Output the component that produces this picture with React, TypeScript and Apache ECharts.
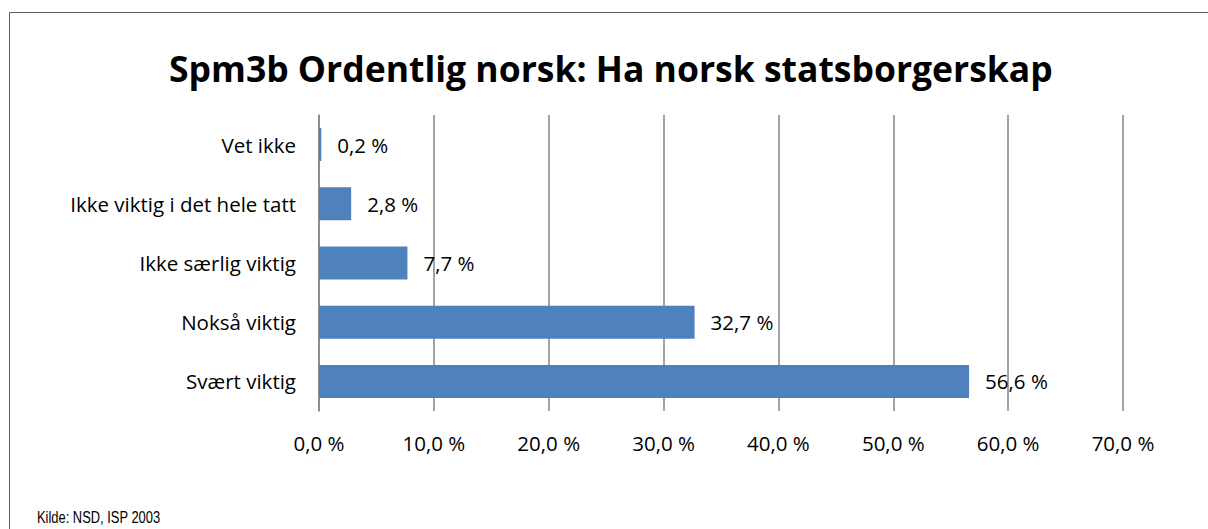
import React, { useEffect, useRef } from "react";
import * as echarts from "echarts";

const categories = ["Svært viktig", "Nokså viktig", "Ikke særlig viktig", "Ikke viktig i det hele tatt", "Vet ikke"];
const values = [56.6, 32.7, 7.7, 2.8, 0.2];
const titleText = "Spm3b Ordentlig norsk: Ha norsk statsborgerskap";
const sourceText = "Kilde: NSD, ISP 2003";

const fmt = (v: number) => v.toFixed(1).replace(".", ",") + " %";

export default function App() {
  const ref = useRef<HTMLDivElement>(null);
  useEffect(() => {
    document.body.style.margin = "0";
    const chart = echarts.init(ref.current!, undefined, { renderer: "svg" });
    const font = "'Open Sans', 'Noto Sans', sans-serif";
    chart.setOption({
      animation: false,
      backgroundColor: "#ffffff",
      title: {
        text: titleText,
        left: 164,
        top: 45,
        textStyle: { fontFamily: font, fontWeight: "bold", fontSize: 35.5, color: "#000" },
      },
      graphic: [
        {
          type: "rect",
          shape: { x: 9.5, y: 12.5, width: 1300, height: 600 },
          style: { fill: "none", stroke: "#5a5a5a", lineWidth: 1 },
          silent: true,
        },
        {
          type: "text",
          x: 37,
          y: 508,
          scaleX: 0.76,
          style: { text: sourceText, fontFamily: "'Liberation Sans', sans-serif", fontSize: 17, fill: "#000" },
        },
      ],
      grid: { left: 319, right: 85, top: 115, bottom: 118, containLabel: false },
      xAxis: {
        type: "value",
        min: 0,
        max: 70,
        interval: 10,
        axisLine: { show: false },
        axisTick: { show: false },
        splitLine: { show: true, lineStyle: { color: "#868686", width: 1.5 } },
        axisLabel: {
          formatter: (v: number) => fmt(v),
          fontFamily: font,
          fontSize: 20.5,
          color: "#000",
          margin: 21,
        },
      },
      yAxis: {
        type: "category",
        data: categories,
        axisLine: { show: true, lineStyle: { color: "#868686", width: 1.5 } },
        axisTick: { show: false },
        axisLabel: { fontFamily: font, fontSize: 20.5, color: "#000", margin: 23 },
      },
      series: [
        {
          type: "bar",
          data: values,
          barWidth: 33,
          itemStyle: { color: "#4F81BD" },
          label: {
            show: true,
            position: "right",
            distance: 16,
            formatter: (p: any) => fmt(p.value),
            fontFamily: font,
            fontSize: 20.5,
            color: "#000",
          },
        },
      ],
    });
    return () => chart.dispose();
  }, []);
  return <div ref={ref} style={{ width: 1208, height: 529 }} />;
}
